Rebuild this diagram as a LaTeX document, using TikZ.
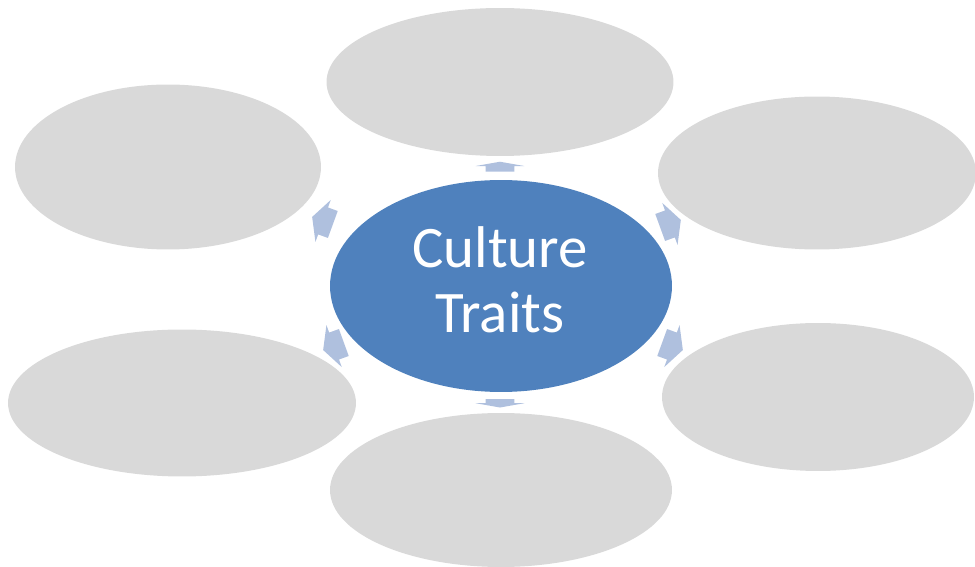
\documentclass[tikz,border=0pt]{standalone}
\usepackage{fontspec}
\setmainfont{Carlito}
\usetikzlibrary{shapes.geometric, shapes.arrows, positioning}
\definecolor{hubColor}{RGB}{79, 129, 189}
\definecolor{satColor}{RGB}{217, 217, 217}
\definecolor{spokeColor}{RGB}{175, 192, 222}

\begin{document}
\begin{tikzpicture}[
  x=0.02cm, y=-0.02cm,
  hub/.style={ellipse, fill=hubColor, inner sep=0pt},
  sat/.style={ellipse, fill=satColor, inner sep=0pt},
  spoke/.style={single arrow, fill=spokeColor, inner xsep=0pt, inner ysep=0.28cm,
    single arrow head extend=0.16cm, single arrow tip angle=125, minimum height=0.44cm},
  stub/.style={spoke, inner ysep=0.28cm, single arrow head extend=0.2cm,
    single arrow tip angle=160, minimum height=0.2cm}
]
\useasboundingbox (0,0) rectangle (975,567);

% outer ellipses
\node[sat, minimum width=6.94cm, minimum height=2.96cm] (north) at (500,82) {};
\node[sat, minimum width=6.12cm, minimum height=3.30cm] (northWest) at (168,167) {};
\node[sat, minimum width=6.36cm, minimum height=3.06cm] (northEast) at (817,173) {};
\node[sat, minimum width=6.96cm, minimum height=2.94cm] (southWest) at (182,403) {};
\node[sat, minimum width=6.24cm, minimum height=2.96cm] (southEast) at (818,397) {};
\node[sat, minimum width=6.84cm, minimum height=3.08cm] (south) at (501,490) {};

% centre
\node[hub, minimum width=6.84cm, minimum height=4.24cm] (traits) at (501,286) {};
\node[text=white, align=center, font=\fontsize{33.5}{37}\selectfont] (traitsLabel) at (500,280) {Culture\\Traits};

% arrows
\node[stub, rotate=90] (toNorth) at (500,168) {};
\node[stub, rotate=-90, minimum height=0.17cm] (toSouth) at (500,402) {};
\node[spoke, rotate=160] (toNorthWest) at (326,222) {};
\node[spoke, rotate=200] (toSouthWest) at (337,345) {};
\node[spoke, rotate=20] (toNorthEast) at (667,225) {};
\node[spoke, rotate=-20] (toSouthEast) at (669,345) {};
\end{tikzpicture}
\end{document}
